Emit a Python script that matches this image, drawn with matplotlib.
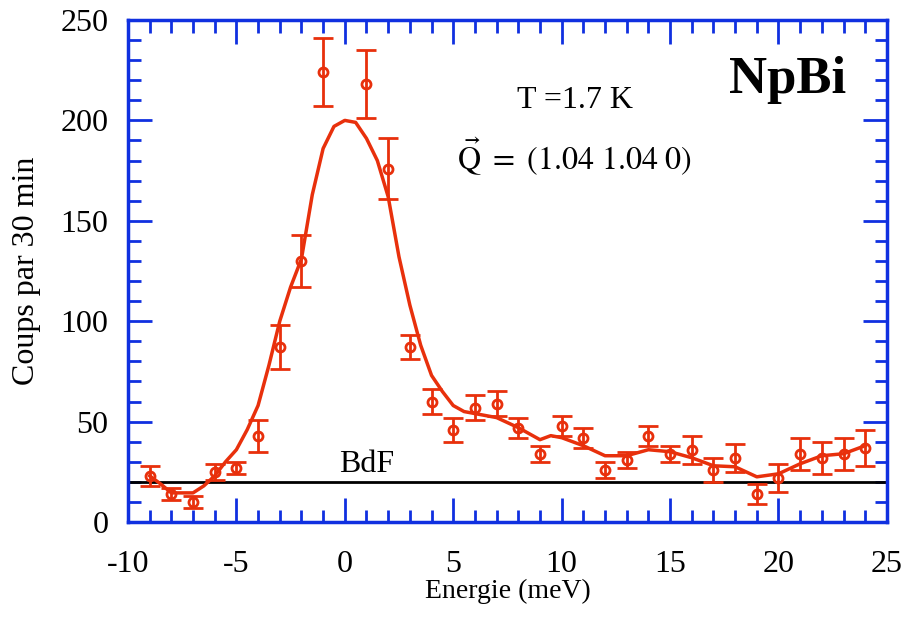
# NpBi 非弹性中子散射谱
import numpy as np
import matplotlib
matplotlib.use('Agg')
import matplotlib.pyplot as plt
from matplotlib.ticker import MultipleLocator

# 实验点
energie = [-9, -8, -7, -6, -5, -4, -3, -2, -1, 1, 2, 3, 4, 5, 6, 7, 8, 9, 10, 11,
           12, 13, 14, 15, 16, 17, 18, 19, 20, 21, 22, 23, 24]
coups = [23, 14, 10, 25, 27, 43, 87, 130, 224, 218, 176, 87, 60, 46, 57, 59, 47, 34, 48, 42,
         26, 31, 43, 34, 36, 26, 32, 14, 22, 34, 32, 34, 37]
erreur = [5, 3, 3, 4, 3, 8, 11, 13, 17, 17, 15, 6, 6, 6, 6, 6, 5, 4, 5, 5,
          4, 4, 5, 4, 7, 6, 7, 5, 7, 8, 8, 8, 9]

# 拟合曲线
fit_x = [-9, -8.5, -8, -7.5, -7, -6.5, -6, -5.5, -5, -4.5, -4, -3.5, -3, -2.5, -2, -1.5,
         -1, -0.5, 0, 0.5, 1, 1.5, 2, 2.5, 3, 3.5, 4, 4.5, 5, 5.5, 6, 7, 8, 9, 9.5, 10,
         11, 12, 13, 14, 15, 16, 17, 18, 19, 20, 21, 22, 23, 24]
fit_y = [23, 19, 14.5, 14.5, 14.5, 18, 23, 30, 36, 46, 58, 78, 100, 117, 131, 163,
         186, 197, 200, 199, 191, 180, 162, 132, 108, 88, 73, 65, 58, 55, 54, 52, 47, 41, 43, 42,
         38, 33, 33, 36, 35, 32, 28, 27.5, 22.5, 24, 29, 33, 34, 38]

bdf = 20

plt.rcParams['font.family'] = ['Liberation Serif', 'DejaVu Serif']
plt.rcParams['mathtext.fontset'] = 'stix'
plt.rcParams['axes.unicode_minus'] = False

red = '#e8300c'
blue = '#1030e0'

fig = plt.figure(figsize=(9.05, 6.19), dpi=100)
ax = fig.add_axes([0.1414, 0.1567, 0.8386, 0.811])

ax.axhline(bdf, color='black', linewidth=2)
ax.plot(fit_x, fit_y, color=red, linewidth=2.5)
ax.errorbar(energie, coups, yerr=erreur, fmt='o', color=red, markerfacecolor='none',
            markersize=6.5, markeredgewidth=2, elinewidth=2, capsize=7, capthick=2)

ax.text(1.0, 21.5, "BdF", ha='center', va='bottom', fontsize=23)
ax.text(10.6, 210, "T =1.7 K", ha='center', va='center', fontsize=23)
ax.text(10.6, 182, r"$\vec{\mathrm{Q}}\ =\ \left(\mathrm{1.04\ 1.04\ 0}\right)$",
        ha='center', va='center', fontsize=23)
ax.text(20.4, 220, "NpBi", ha='center', va='center', fontsize=38, fontweight='bold')

ax.set_xlim(-10, 25)
ax.set_ylim(0, 250)
ax.xaxis.set_major_locator(MultipleLocator(5))
ax.xaxis.set_minor_locator(MultipleLocator(1))
ax.yaxis.set_major_locator(MultipleLocator(50))
ax.yaxis.set_minor_locator(MultipleLocator(10))
ax.tick_params(which='both', direction='in', top=True, right=True, color=blue, width=2,
               labelsize=23)
ax.tick_params(which='major', length=17)
ax.tick_params(which='minor', length=9)
ax.tick_params(axis='x', which='major', pad=20)
ax.tick_params(axis='y', which='major', pad=14)
for side in ['top', 'bottom', 'left', 'right']:
    ax.spines[side].set_linewidth(2.5)
    ax.spines[side].set_color(blue)

ax.set_xlabel("Energie (meV)", fontsize=20, labelpad=0)
ax.set_ylabel("Coups par 30 min", fontsize=23, labelpad=14)

fig.savefig('out.png', dpi=100)
